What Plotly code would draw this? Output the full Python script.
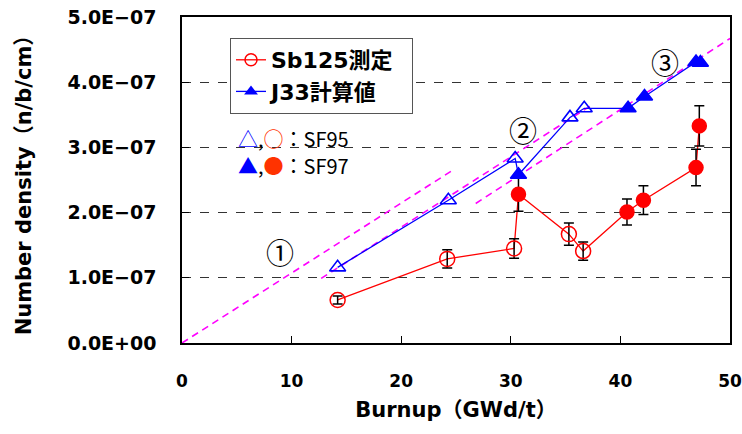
import plotly.graph_objects as go

# ---- data ----
burnup_meas = [14.2, 24.2, 30.3, 30.7, 35.3, 36.6, 40.6, 42.1, 46.9, 47.2]
sb125_meas = [0.66e-7, 1.29e-7, 1.45e-7, 2.28e-7, 1.67e-7, 1.41e-7, 2.01e-7, 2.19e-7, 2.69e-7, 3.33e-7]
sb125_err = [0.06e-7, 0.14e-7, 0.15e-7, 0.26e-7, 0.17e-7, 0.14e-7, 0.20e-7, 0.22e-7, 0.28e-7, 0.31e-7]
meas_set = ["SF95", "SF95", "SF95", "SF97", "SF95", "SF95", "SF97", "SF97", "SF97", "SF97"]

burnup_calc = [14.2, 24.3, 30.4, 30.7, 35.4, 36.7, 40.7, 42.2, 46.9, 47.3]
j33_calc = [1.16e-7, 2.19e-7, 2.83e-7, 2.58e-7, 3.46e-7, 3.60e-7, 3.60e-7, 3.78e-7, 4.31e-7, 4.30e-7]
calc_set = ["SF95", "SF95", "SF95", "SF97", "SF95", "SF95", "SF97", "SF97", "SF97", "SF97"]

# dashed guide lines (start/end points)
guide_x = [[0.0, 24.6], [12.7, 37.2], [26.8, 50.0]]
guide_y = [[0.0, 2.64e-7], [0.99e-7, 3.63e-7], [2.14e-7, 4.67e-7]]
guide_labels = ["①", "②", "③"]
guide_label_x = [8.9, 31.1, 44.1]
guide_label_y = [1.40e-7, 3.26e-7, 4.31e-7]

y_ticks = [0, 1e-7, 2e-7, 3e-7, 4e-7, 5e-7]
y_ticktext = ["0.0E+00", "1.0E\u221207", "2.0E\u221207", "3.0E\u221207", "4.0E\u221207", "5.0E\u221207"]
x_ticks = [0, 10, 20, 30, 40, 50]

RED = "#FF0000"
BLUE = "#0000FF"
MAG = "#FF00FF"
FONT = "DejaVu Sans, Noto Sans CJK JP"
CJK = "Noto Sans CJK JP"

W, H = 742, 434
L, R, T, B = 182, 12, 17, 91
PW, PH = W - L - R, H - T - B

fig = go.Figure()

# guide lines
for gx, gy in zip(guide_x, guide_y):
    fig.add_trace(go.Scatter(x=gx, y=gy, mode="lines", showlegend=False,
                             line=dict(color=MAG, width=1.6, dash="7px,5px"),
                             hoverinfo="skip"))

# lines
fig.add_trace(go.Scatter(x=burnup_meas, y=sb125_meas, mode="lines", showlegend=False,
                         line=dict(color=RED, width=1.3)))
fig.add_trace(go.Scatter(x=burnup_calc, y=j33_calc, mode="lines", showlegend=False,
                         line=dict(color=BLUE, width=1.3)))


def subset(xs, ys, sets, key, errs=None):
    idx = [i for i, s in enumerate(sets) if s == key]
    out = ([xs[i] for i in idx], [ys[i] for i in idx])
    if errs is not None:
        out = out + ([errs[i] for i in idx],)
    return out


# measured markers with error bars
for key, sym in [("SF95", "circle-open"), ("SF97", "circle")]:
    xs, ys, es = subset(burnup_meas, sb125_meas, meas_set, key, sb125_err)
    fig.add_trace(go.Scatter(
        x=xs, y=ys, mode="markers", showlegend=False,
        marker=dict(symbol=sym, size=14 if sym == "circle" else 15, color=RED,
                    line=dict(color=RED, width=1.5)),
        error_y=dict(type="data", array=es, visible=True, color="black",
                     thickness=1.5, width=5)))

# calculated markers
for key, sym in [("SF95", "triangle-up-open"), ("SF97", "triangle-up")]:
    xs, ys = subset(burnup_calc, j33_calc, calc_set, key)
    fig.add_trace(go.Scatter(
        x=xs, y=ys, mode="markers", showlegend=False,
        marker=dict(symbol=sym, size=14, color=BLUE,
                    line=dict(color=BLUE, width=1.6))))

# legend entries
fig.add_trace(go.Scatter(x=[None], y=[None], mode="lines+markers",
                         name='<b>Sb125測定</b>&nbsp;&nbsp;',
                         line=dict(color=RED, width=1.3),
                         marker=dict(symbol="circle-open", size=12, color=RED,
                                     line=dict(width=1.5))))
fig.add_trace(go.Scatter(x=[None], y=[None], mode="lines+markers",
                         name='<b>J33計算値</b>&nbsp;&nbsp;',
                         line=dict(color=BLUE, width=1.3),
                         marker=dict(symbol="triangle-up", size=12, color=BLUE)))

# circled labels
for t, lx, ly in zip(guide_labels, guide_label_x, guide_label_y):
    fig.add_annotation(x=lx, y=ly, text=t, showarrow=False,
                       font=dict(family=CJK, size=28, color="black"))

# set key text
fig.add_annotation(xref="paper", yref="paper", x=(236 - L) / PW, y=(H - B - 138) / PH,
                   xanchor="left", yanchor="middle", showarrow=False,
                   text='<span style="color:#0000FF">△</span>,'
                        '<span style="color:#FF3300">○</span>：SF95',
                   font=dict(family=CJK, size=20, color="black"))
fig.add_annotation(xref="paper", yref="paper", x=(236 - L) / PW, y=(H - B - 165) / PH,
                   xanchor="left", yanchor="middle", showarrow=False,
                   text='<span style="color:#0000FF">▲</span>,'
                        '<span style="color:#FF3300">●</span>：SF97',
                   font=dict(family=CJK, size=20, color="black"))

fig.update_layout(
    width=W, height=H,
    margin=dict(l=L, r=R, t=T, b=B),
    paper_bgcolor="white", plot_bgcolor="white",
    font=dict(family=FONT, color="black"),
    legend=dict(x=(230 - L) / PW, y=(H - B - 38) / PH, xanchor="left", yanchor="top",
                bgcolor="white", bordercolor="#555555", borderwidth=1,
                font=dict(family=FONT, size=22, color="black"),
                tracegroupgap=0),
    showlegend=True,
    hovermode=False,
)
fig.update_xaxes(range=[0, 50], tickvals=x_ticks, ticktext=[f"<b>{v}</b>" for v in x_ticks],
                 ticks="inside", ticklen=7, tickcolor="black", showgrid=False,
                 showline=True, linecolor="black", linewidth=1.5, mirror=True,
                 zeroline=False, ticklabelstandoff=22, automargin=False,
                 ticklabeloverflow="allow",
                 tickfont=dict(family=FONT, size=17, color="black"),
                 title=dict(text="<b>Burnup（GWd/t）</b>", standoff=12,
                            font=dict(family=FONT, size=21, color="black")))
fig.update_yaxes(range=[0, 5e-7], tickvals=y_ticks, ticktext=[f"<b>{t}</b>" for t in y_ticktext],
                 ticks="inside", ticklen=7, tickcolor="black",
                 showgrid=True, gridcolor="#333333", griddash="dash", gridwidth=1,
                 showline=True, linecolor="black", linewidth=1.5, mirror=True,
                 zeroline=False, ticklabelstandoff=20, automargin=False,
                 ticklabeloverflow="allow",
                 tickfont=dict(family=FONT, size=19, color="black"),
                 title=dict(text="<b>Number density（n/b/cm）</b>", standoff=30,
                            font=dict(family=FONT, size=21, color="black")))

fig.write_html("out.html", config={"displayModeBar": False},
               post_script="document.body.style.margin='0';")
